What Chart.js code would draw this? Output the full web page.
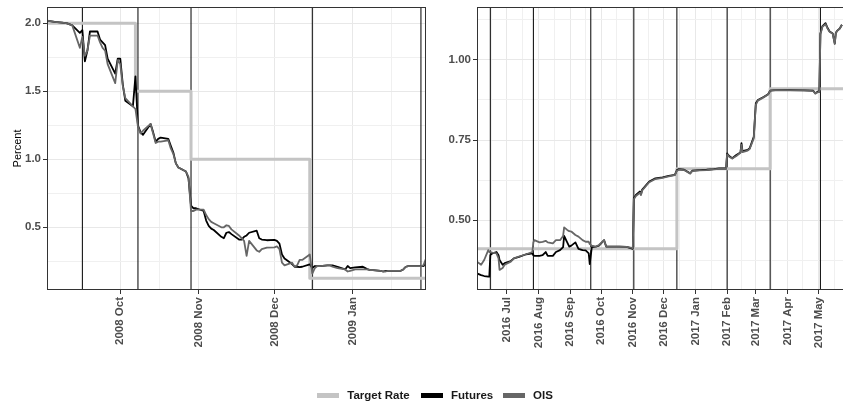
<!DOCTYPE html>
<html>
<head>
<meta charset="utf-8">
<script src="https://cdn.jsdelivr.net/npm/chart.js@4.4.1/dist/chart.umd.min.js"></script>
<style>
  html, body { margin: 0; padding: 0; background: #fff; overflow: hidden; width: 843px; height: 405px; }
  #wrap { position: relative; width: 843px; height: 405px; }
  canvas { position: absolute; top: 0; }
  #left { left: 0; }
  #right { left: 430px; }
  .legend { position: absolute; top: 387px; left: 0; width: 843px; height: 16px;
            font: bold 11.5px "Liberation Sans", Arial, sans-serif; color: #1a1a1a; }
  .key { position: absolute; top: 5.5px; width: 22.5px; height: 5px; }
  .lab { position: absolute; top: 0; line-height: 16px; white-space: nowrap; }
</style>
</head>
<body>
<div id="wrap">
  <canvas id="left" width="430" height="405"></canvas>
  <canvas id="right" width="415" height="405"></canvas>
  <div class="legend">
    <div class="key" style="left:316.7px;background:#c4c4c4"></div><div class="lab" style="left:347.3px">Target Rate</div>
    <div class="key" style="left:420.5px;background:#000"></div><div class="lab" style="left:451px">Futures</div>
    <div class="key" style="left:502.5px;background:#666"></div><div class="lab" style="left:533px">OIS</div>
  </div>
</div>
<script>
// ---------- 2008-09 episode ----------
const leftDates = [
  '2008-09-02','2008-09-05','2008-09-08','2008-09-10','2008-09-12','2008-09-15','2008-09-16','2008-09-17','2008-09-18','2008-09-19','2008-09-22','2008-09-23','2008-09-24','2008-09-25','2008-09-26','2008-09-29','2008-09-30',
  '2008-10-01','2008-10-02','2008-10-03','2008-10-06','2008-10-07','2008-10-08','2008-10-09','2008-10-10','2008-10-13','2008-10-14','2008-10-15','2008-10-16','2008-10-17','2008-10-20','2008-10-21','2008-10-22','2008-10-23','2008-10-24','2008-10-27','2008-10-28','2008-10-29','2008-10-30','2008-10-31',
  '2008-11-03','2008-11-04','2008-11-05','2008-11-06','2008-11-07','2008-11-10','2008-11-11','2008-11-12','2008-11-13','2008-11-14','2008-11-17','2008-11-18','2008-11-19','2008-11-20','2008-11-21','2008-11-24','2008-11-25','2008-11-26','2008-11-28',
  '2008-12-01','2008-12-02','2008-12-03','2008-12-04','2008-12-05','2008-12-08','2008-12-09','2008-12-10','2008-12-11','2008-12-12','2008-12-15','2008-12-16','2008-12-17','2008-12-18','2008-12-19','2008-12-22','2008-12-23','2008-12-24','2008-12-26','2008-12-29','2008-12-30','2008-12-31',
  '2009-01-02','2009-01-05','2009-01-06','2009-01-07','2009-01-08','2009-01-09','2009-01-12','2009-01-13','2009-01-14','2009-01-15','2009-01-16','2009-01-20','2009-01-21','2009-01-22','2009-01-23','2009-01-26','2009-01-27','2009-01-28','2009-01-29','2009-01-30'
];
const leftFutures = [
  2.02,2.01,2.005,2.00,1.985,1.93,1.95,1.72,1.80,1.94,1.94,1.88,1.86,1.84,1.74,1.63,1.74,
  1.74,1.55,1.43,1.39,1.61,1.25,1.20,1.18,1.26,1.20,1.13,1.15,1.16,1.15,1.10,1.05,0.97,0.94,0.91,0.86,0.66,0.64,0.64,
  0.62,0.55,0.51,0.49,0.48,0.43,0.42,0.46,0.465,0.45,0.41,0.41,0.43,0.44,0.46,0.475,0.42,0.41,0.405,
  0.407,0.40,0.38,0.30,0.27,0.23,0.21,0.21,0.207,0.21,0.228,0.20,0.215,0.215,0.215,0.22,0.22,0.22,0.21,0.19,0.215,0.20,
  0.205,0.21,0.20,0.19,0.185,0.185,0.18,0.175,0.18,0.18,0.18,0.18,0.19,0.21,0.215,0.215,0.215,0.215,0.215,0.235
];
const leftOIS = [
  2.02,2.01,2.005,2.00,1.985,1.82,1.90,1.76,1.80,1.91,1.91,1.86,1.82,1.80,1.70,1.56,1.73,
  1.70,1.54,1.45,1.39,1.37,1.24,1.19,1.21,1.26,1.19,1.12,1.13,1.13,1.14,1.08,1.04,0.97,0.94,0.91,0.87,0.62,0.62,0.63,
  0.63,0.59,0.56,0.54,0.53,0.50,0.50,0.515,0.51,0.485,0.44,0.42,0.40,0.29,0.40,0.33,0.32,0.34,0.35,
  0.353,0.36,0.34,0.24,0.22,0.24,0.21,0.22,0.26,0.26,0.30,0.16,0.20,0.215,0.215,0.22,0.22,0.21,0.20,0.19,0.175,0.18,
  0.19,0.19,0.19,0.19,0.185,0.185,0.18,0.175,0.175,0.18,0.18,0.18,0.19,0.21,0.215,0.215,0.215,0.215,0.22,0.27
];
const leftTargetDates = ['2008-09-02','2008-10-07','2008-10-29','2008-12-15','2009-01-30'];
const leftTarget      = [2.0, 1.5, 1.0, 0.125, 0.125];
const leftMeetings    = ['2008-09-16','2008-10-08','2008-10-29','2008-12-16','2009-01-28'];
const leftMonthStarts = ['2008-09-01','2008-10-01','2008-11-01','2008-12-01','2009-01-01','2009-02-01'];
const leftRange       = ['2008-09-02','2009-01-30'];
const leftYMajor      = [0.5, 1.0, 1.5, 2.0];
const leftYMinor      = [0.25, 0.75, 1.25, 1.75];
const leftYRange      = [0.039, 2.12];

// ---------- 2016-17 episode ----------
const rightDates = [
  '2016-06-02','2016-06-06','2016-06-09','2016-06-13','2016-06-14','2016-06-15','2016-06-17','2016-06-21','2016-06-23','2016-06-24','2016-06-27','2016-06-29',
  '2016-07-05','2016-07-08','2016-07-13','2016-07-20','2016-07-26','2016-07-27','2016-07-28',
  '2016-08-02','2016-08-05','2016-08-08','2016-08-10','2016-08-15','2016-08-18','2016-08-22','2016-08-25','2016-08-26','2016-08-29','2016-08-31',
  '2016-09-02','2016-09-06','2016-09-09','2016-09-13','2016-09-16','2016-09-19','2016-09-20','2016-09-22','2016-09-26','2016-09-29',
  '2016-10-04','2016-10-06','2016-10-12','2016-10-19','2016-10-26',
  '2016-11-01','2016-11-02','2016-11-04','2016-11-08','2016-11-09','2016-11-10','2016-11-14','2016-11-17','2016-11-23','2016-11-30',
  '2016-12-06','2016-12-12','2016-12-14','2016-12-16','2016-12-21','2016-12-27','2016-12-29',
  '2017-01-05','2017-01-12','2017-01-19','2017-01-24','2017-01-31',
  '2017-02-01','2017-02-03','2017-02-06','2017-02-10','2017-02-14','2017-02-15','2017-02-16','2017-02-21','2017-02-23','2017-02-27','2017-02-28',
  '2017-03-01','2017-03-03','2017-03-09','2017-03-13','2017-03-15','2017-03-20',
  '2017-04-03','2017-04-17','2017-04-26','2017-04-28',
  '2017-05-01','2017-05-02','2017-05-03','2017-05-05','2017-05-08','2017-05-10','2017-05-12','2017-05-15','2017-05-17','2017-05-18','2017-05-19','2017-05-22','2017-05-24'
];
const rightFutures = [
  0.333,0.328,0.325,0.323,0.323,0.390,0.396,0.400,0.390,0.375,0.360,0.365,
  0.372,0.380,0.385,0.393,0.396,0.390,0.388,
  0.388,0.390,0.400,0.388,0.388,0.400,0.406,0.415,0.450,0.430,0.417,
  0.420,0.430,0.410,0.406,0.405,0.396,0.362,0.415,0.417,0.420,
  0.437,0.417,0.417,0.417,0.416,
  0.410,0.568,0.578,0.589,0.580,0.594,0.609,0.620,0.630,0.633,
  0.638,0.641,0.656,0.659,0.657,0.646,0.654,
  0.656,0.657,0.659,0.661,0.661,
  0.708,0.700,0.693,0.703,0.711,0.740,0.715,0.719,0.724,0.760,0.812,
  0.865,0.875,0.885,0.893,0.904,0.906,
  0.906,0.905,0.904,0.896,
  0.902,0.900,1.083,1.106,1.115,1.100,1.089,1.083,1.052,1.083,1.090,1.099,1.110
];
const rightOIS = [
  0.370,0.360,0.375,0.406,0.400,0.400,0.398,0.396,0.380,0.344,0.350,0.360,
  0.370,0.380,0.386,0.393,0.400,0.430,0.437,
  0.430,0.432,0.435,0.430,0.427,0.437,0.437,0.450,0.477,0.469,0.465,
  0.464,0.453,0.448,0.437,0.432,0.432,0.425,0.420,0.417,0.422,
  0.437,0.417,0.417,0.417,0.416,
  0.412,0.565,0.575,0.585,0.578,0.592,0.607,0.618,0.628,0.632,
  0.636,0.640,0.654,0.657,0.656,0.645,0.653,
  0.655,0.656,0.658,0.660,0.660,
  0.705,0.698,0.692,0.700,0.710,0.735,0.712,0.717,0.722,0.755,0.810,
  0.860,0.873,0.884,0.892,0.904,0.906,
  0.905,0.905,0.903,0.895,
  0.900,0.900,1.080,1.104,1.112,1.098,1.088,1.082,1.050,1.082,1.090,1.098,1.110
];
const rightTargetDates = ['2016-06-02','2016-12-14','2017-03-15','2017-05-27'];
const rightTarget      = [0.41, 0.66, 0.91, 0.91];
const rightMeetings    = ['2016-06-15','2016-07-27','2016-09-21','2016-11-02','2016-12-14','2017-02-01','2017-03-15','2017-05-03'];
const rightMonthStarts = ['2016-06-01','2016-07-01','2016-08-01','2016-09-01','2016-10-01','2016-11-01','2016-12-01',
                          '2017-01-01','2017-02-01','2017-03-01','2017-04-01','2017-05-01','2017-06-01'];
const rightRange       = ['2016-06-02','2017-05-27'];
const rightYMajor      = [0.50, 0.75, 1.00];
const rightYMinor      = [0.375, 0.625, 0.875, 1.125];
const rightYRange      = [0.2813, 1.1656];

// ---------- helpers ----------
const MONTHS = ['Jan','Feb','Mar','Apr','May','Jun','Jul','Aug','Sep','Oct','Nov','Dec'];
const dayOf = s => Date.UTC(+s.slice(0, 4), +s.slice(5, 7) - 1, +s.slice(8, 10)) / 864e5;
const monthLabel = s => s.slice(0, 4) + ' ' + MONTHS[+s.slice(5, 7) - 1];
const points = (dates, vals) => dates.map((d, i) => ({ x: dayOf(d), y: vals[i] }));

function xTicks(monthStarts, range) {
  const lo = dayOf(range[0]), hi = dayOf(range[1]);
  const t = [];
  monthStarts.forEach((s, i) => {
    const v = dayOf(s);
    if (v >= lo && v <= hi) t.push({ value: v, minor: false, text: monthLabel(s) });
    if (i > 0) {
      const m = (dayOf(monthStarts[i - 1]) + v) / 2;
      if (m >= lo && m <= hi) t.push({ value: m, minor: true, text: '' });
    }
  });
  return t.sort((a, b) => a.value - b.value);
}
function yTicks(major, minor, digits) {
  return major.map(v => ({ value: v, minor: false, text: v.toFixed(digits) }))
    .concat(minor.map(v => ({ value: v, minor: true, text: '' })))
    .sort((a, b) => a.value - b.value);
}

// vertical rules at policy meeting dates
const meetingLines = {
  id: 'meetingLines',
  beforeDatasetsDraw(chart, args, opts) {
    const { ctx, chartArea: a, scales: { x } } = chart;
    ctx.save();
    ctx.beginPath();
    ctx.rect(a.left, a.top, a.right - a.left, a.bottom - a.top);
    ctx.clip();
    ctx.strokeStyle = '#000';
    ctx.lineWidth = 1;
    (opts.dates || []).forEach(d => {
      const px = x.getPixelForValue(dayOf(d));
      ctx.beginPath();
      ctx.moveTo(px, a.top);
      ctx.lineTo(px, a.bottom);
      ctx.stroke();
    });
    ctx.restore();
  }
};
// panel border drawn over the data
const panelFrame = {
  id: 'panelFrame',
  afterDatasetsDraw(chart) {
    const { ctx, chartArea: a } = chart;
    ctx.save();
    ctx.strokeStyle = '#333';
    ctx.lineWidth = 1;
    ctx.strokeRect(a.left + 0.5, a.top + 0.5, a.right - a.left - 1, a.bottom - a.top - 1);
    ctx.restore();
  }
};

Chart.defaults.font.family = '"Liberation Sans", Arial, Helvetica, sans-serif';

function panel(id, p) {
  const tickFont = { size: 11.5, weight: 'bold' };
  const gridColor = c => (c.tick && c.tick.minor) ? '#f0f0f0' : '#e8e8e8';
  const tickColor = c => (c.tick && c.tick.minor) ? 'rgba(0,0,0,0)' : '#333';
  return new Chart(document.getElementById(id), {
    type: 'line',
    data: {
      datasets: [
        { label: 'Target Rate', data: points(p.targetDates, p.target), borderColor: '#c4c4c4',
          borderWidth: 3, stepped: true, order: 2 },
        { label: 'Futures', data: points(p.dates, p.futures), borderColor: '#000000',
          borderWidth: 1.8, order: 1 },
        { label: 'OIS', data: points(p.dates, p.ois), borderColor: '#666666',
          borderWidth: 1.8, order: 0 }
      ]
    },
    options: {
      responsive: false,
      animation: false,
      events: [],
      layout: { padding: { top: 7, right: p.padRight, bottom: 0, left: 0 } },
      elements: { point: { radius: 0 }, line: { tension: 0, fill: false, borderJoinStyle: 'round' } },
      plugins: {
        legend: { display: false },
        tooltip: { enabled: false },
        meetingLines: { dates: p.meetings }
      },
      scales: {
        x: {
          type: 'linear', bounds: 'data',
          min: dayOf(p.range[0]), max: dayOf(p.range[1]),
          afterBuildTicks: ax => { ax.ticks = xTicks(p.monthStarts, p.range); },
          afterFit: ax => { ax.height = 115; ax.paddingLeft = 0; ax.paddingRight = 0; },
          border: { display: false },
          grid: { color: gridColor, tickColor: tickColor, tickLength: 4, lineWidth: 1 },
          ticks: {
            autoSkip: false, minRotation: 90, maxRotation: 90, padding: 3,
            color: '#4d4d4d', font: tickFont,
            callback: (v, i, ticks) => ticks[i].text
          }
        },
        y: {
          type: 'linear', bounds: 'data',
          min: p.yRange[0], max: p.yRange[1],
          afterBuildTicks: ax => { ax.ticks = yTicks(p.yMajor, p.yMinor, p.digits); },
          afterFit: ax => { ax.width = 47; ax.paddingTop = 0; ax.paddingBottom = 0; },
          border: { display: false },
          grid: { color: gridColor, tickColor: tickColor, tickLength: 4, lineWidth: 1 },
          title: p.yTitle
            ? { display: true, text: p.yTitle, color: '#000', font: { size: 11 }, padding: { top: 11, bottom: 0 } }
            : { display: false },
          ticks: {
            padding: 2, color: '#4d4d4d', font: tickFont,
            callback: (v, i, ticks) => ticks[i].text
          }
        }
      }
    },
    plugins: [meetingLines, panelFrame]
  });
}

panel('left', {
  dates: leftDates, futures: leftFutures, ois: leftOIS,
  targetDates: leftTargetDates, target: leftTarget, meetings: leftMeetings,
  monthStarts: leftMonthStarts, range: leftRange,
  yMajor: leftYMajor, yMinor: leftYMinor, yRange: leftYRange, digits: 1,
  yTitle: 'Percent', padRight: 4
});
panel('right', {
  dates: rightDates, futures: rightFutures, ois: rightOIS,
  targetDates: rightTargetDates, target: rightTarget, meetings: rightMeetings,
  monthStarts: rightMonthStarts, range: rightRange,
  yMajor: rightYMajor, yMinor: rightYMinor, yRange: rightYRange, digits: 2,
  yTitle: '', padRight: 0
});
</script>
</body>
</html>
